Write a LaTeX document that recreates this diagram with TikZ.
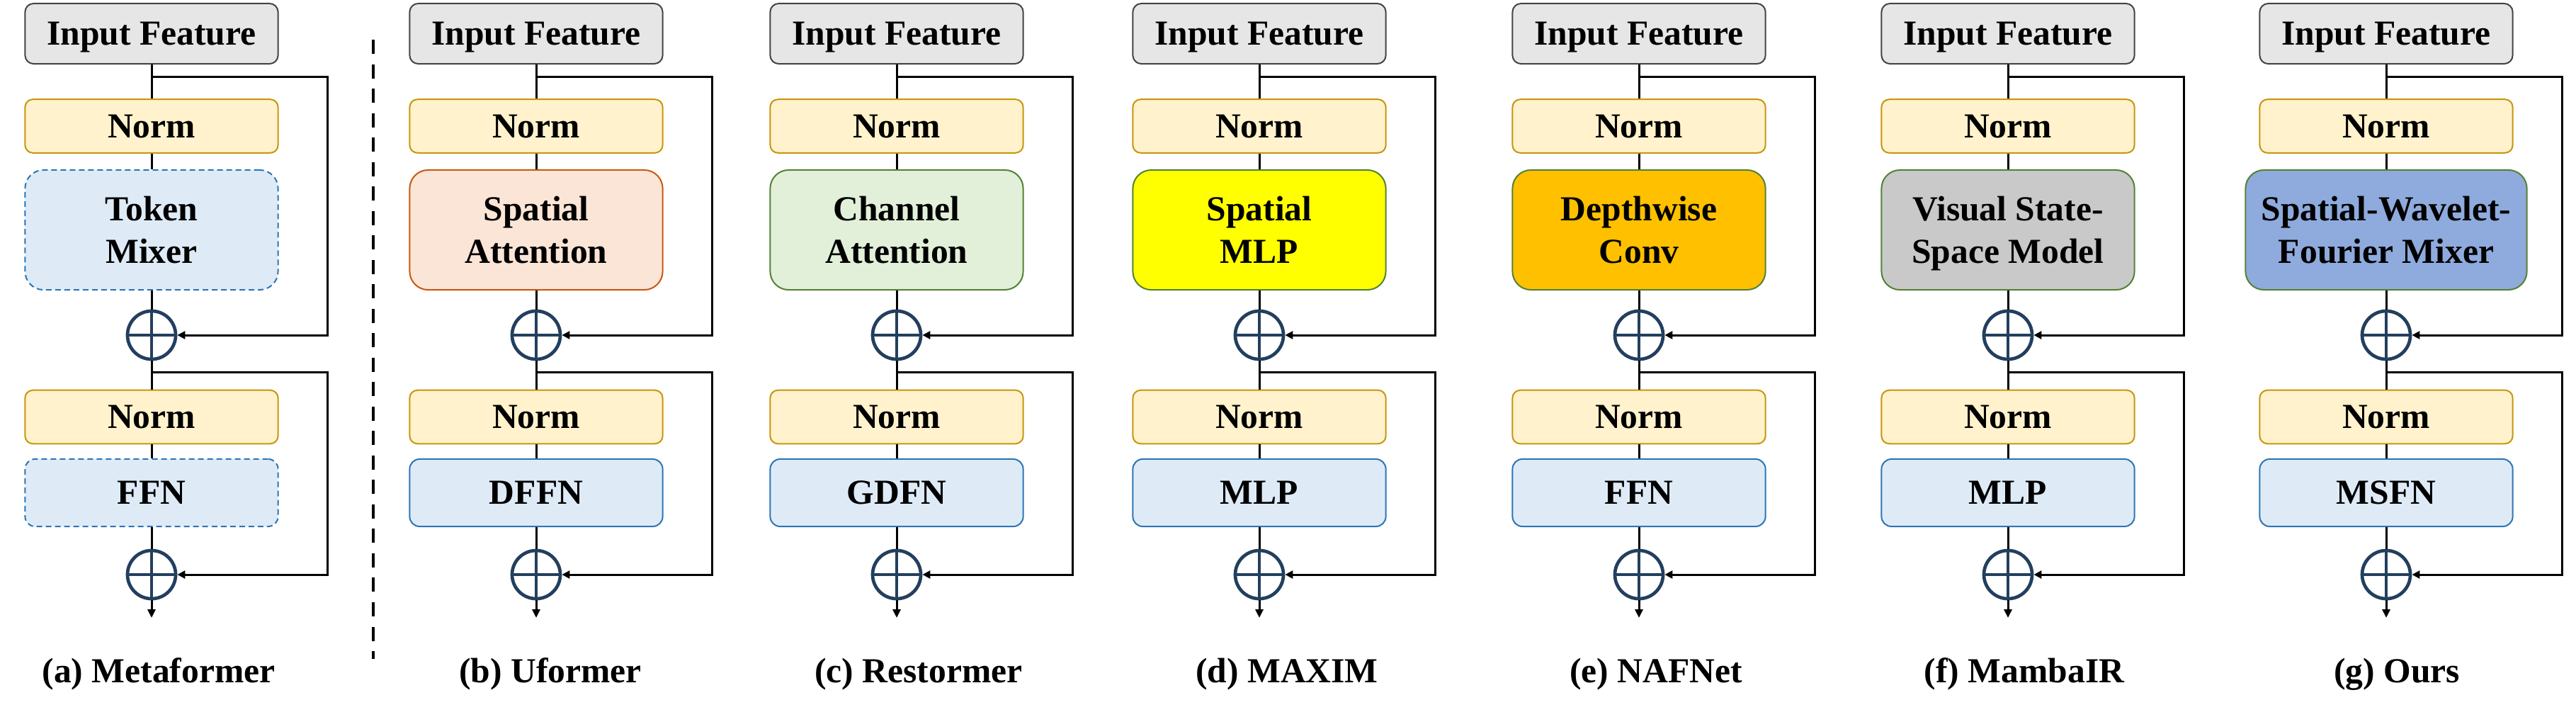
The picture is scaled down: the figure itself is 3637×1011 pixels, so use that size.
\documentclass[tikz,border=0pt]{standalone}
\usepackage{fontspec}
\setmainfont{Liberation Serif}
\usetikzlibrary{arrows.meta}
\definecolor{inFill}{HTML}{E6E6E6}
\definecolor{inDraw}{HTML}{444444}
\definecolor{normFill}{HTML}{FFF2CC}
\definecolor{normDraw}{HTML}{C8960C}
\definecolor{blueFill}{HTML}{DEEBF7}
\definecolor{blueDraw}{HTML}{2E75B6}
\definecolor{orFill}{HTML}{FBE5D6}
\definecolor{orDraw}{HTML}{C55A11}
\definecolor{grFill}{HTML}{E2F0D9}
\definecolor{grDraw}{HTML}{548235}
\definecolor{yelFill}{HTML}{FFFF00}
\definecolor{ambFill}{HTML}{FFC000}
\definecolor{grayFill}{HTML}{C9C9C9}
\definecolor{swfFill}{HTML}{8FAADC}
\definecolor{addCol}{HTML}{233F5E}
\newcommand\lblfont{\fontsize{14.1pt}{17.07pt}\selectfont\bfseries}
\tikzset{
  boxbase/.style={rectangle, inner sep=0pt, minimum width=3.57cm, text depth=0pt,
    line width=0.02cm, font=\lblfont, align=center, text=black},
  inbox/.style={boxbase, draw=inDraw, fill=inFill, minimum height=0.85cm, rounded corners=0.12cm},
  normbox/.style={boxbase, draw=normDraw, fill=normFill, minimum height=0.755cm, rounded corners=0.11cm},
  mixbase/.style={boxbase, minimum height=1.69cm, rounded corners=0.26cm},
  tokenmix/.style={mixbase, draw=blueDraw, fill=blueFill, dash pattern=on 0.08cm off 0.05cm},
  satt/.style={mixbase, draw=orDraw, fill=orFill},
  catt/.style={mixbase, draw=grDraw, fill=grFill},
  smlp/.style={mixbase, draw=grDraw, fill=yelFill},
  dwc/.style={mixbase, draw=grDraw, fill=ambFill},
  vssm/.style={mixbase, draw=grDraw, fill=grayFill},
  swf/.style={mixbase, draw=grDraw, fill=swfFill, minimum width=3.97cm},
  ffnbase/.style={boxbase, minimum height=0.95cm, rounded corners=0.14cm},
  ffndash/.style={ffnbase, draw=blueDraw, fill=blueFill, dash pattern=on 0.08cm off 0.05cm},
  ffnsolid/.style={ffnbase, draw=blueDraw, fill=blueFill},
  addc/.style={circle, draw=addCol, line width=0.047cm, minimum size=0.68cm, inner sep=0pt,
    path picture={\draw[addCol, line width=0.047cm]
      (path picture bounding box.north) -- (path picture bounding box.south)
      (path picture bounding box.west) -- (path picture bounding box.east);}},
  wire/.style={draw=black, line width=0.03cm},
  skiptip/.style={-{Triangle[length=0.11cm, width=0.11cm]}},
  outtip/.style={-{Triangle[length=0.12cm, width=0.11cm]}},
  captext/.style={font=\lblfont, anchor=base, inner sep=0pt},
  sepline/.style={draw=black, line width=0.04cm, dash pattern=on 0.2cm off 0.145cm}
}
% #1 prefix, #2 x centre, #3 mixer text, #4 mixer style, #5 ffn text, #6 ffn style, #7 caption, #8 caption x
\newcommand\blockcol[8]{%
  \begin{scope}[shift={(#2,0)}]
    \node[inbox] (#1in) at (0,47.5) {Input Feature};
    \node[normbox] (#1na) at (0,178) {Norm};
    \node[#4] (#1mx) at (0,324.5) {#3};
    \node[addc] (#1ca) at (0,473) {};
    \node[normbox] (#1nb) at (0,588.5) {Norm};
    \node[#6] (#1ff) at (0,695.5) {#5};
    \node[addc] (#1cb) at (0,811) {};
    \coordinate (#1out) at (0,872);
    \coordinate (#1sa) at (0,108);
    \coordinate (#1ra) at (248,108);
    \coordinate (#1sb) at (0,525);
    \coordinate (#1rb) at (248,525);
    \draw[wire] (#1in) -- (#1na);
    \draw[wire] (#1na) -- (#1mx);
    \draw[wire] (#1mx) -- (#1ca);
    \draw[wire] (#1ca) -- (#1nb);
    \draw[wire] (#1nb) -- (#1ff);
    \draw[wire] (#1ff) -- (#1cb);
    \draw[wire, outtip] (#1cb) -- (#1out);
    \draw[wire, skiptip] (#1sa) -- (#1ra) |- (#1ca.east);
    \draw[wire, skiptip] (#1sb) -- (#1rb) |- (#1cb.east);
  \end{scope}
  \node[captext] (#1cap) at (#8,963) {#7};
}
\begin{document}
\begin{tikzpicture}[x=0.01cm, y=-0.01cm]
  \useasboundingbox (0,0) rectangle (3637,1011);
  \fill[white] (0,0) rectangle (3637,1011);
  \blockcol{a}{214}{Token\\Mixer}{tokenmix}{FFN}{ffndash}{(a) Metaformer}{224}
  \blockcol{b}{757}{Spatial\\Attention}{satt}{DFFN}{ffnsolid}{(b) Uformer}{777}
  \blockcol{c}{1266}{Channel\\Attention}{catt}{GDFN}{ffnsolid}{(c) Restormer}{1297}
  \blockcol{d}{1778}{Spatial\\MLP}{smlp}{MLP}{ffnsolid}{(d) MAXIM}{1817}
  \blockcol{e}{2314}{Depthwise\\Conv}{dwc}{FFN}{ffnsolid}{(e) NAFNet}{2338}
  \blockcol{f}{2835}{Visual State-\\Space Model}{vssm}{MLP}{ffnsolid}{(f) MambaIR}{2858}
  \blockcol{g}{3369}{Spatial-Wavelet-\\Fourier Mixer}{swf}{MSFN}{ffnsolid}{(g) Ours}{3384}
  \coordinate (septop) at (527,56);
  \coordinate (sepbot) at (527,930);
  \draw[sepline] (septop) -- (sepbot);
\end{tikzpicture}
\end{document}
